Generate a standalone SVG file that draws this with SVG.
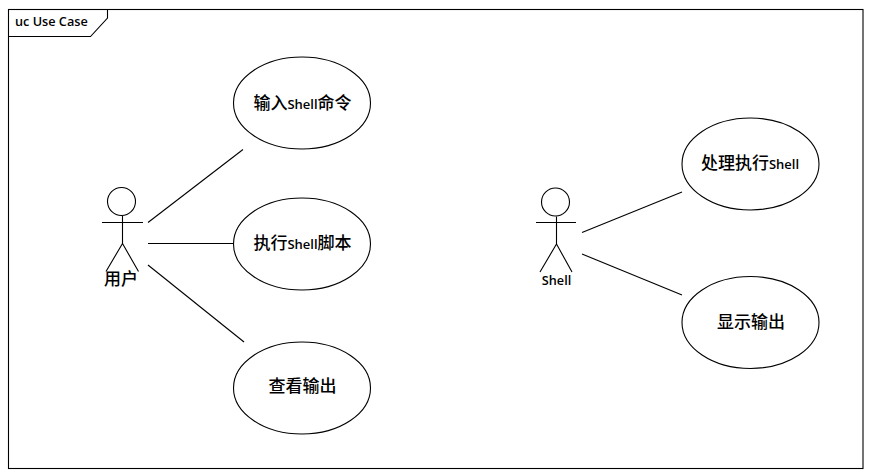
<svg xmlns="http://www.w3.org/2000/svg" width="870" height="476" viewBox="0 0 870 476">
<style>
.s{fill:none;stroke:#000;stroke-width:1.1}
.e{fill:#fff;stroke:#000;stroke-width:1.1}
.t{font-family:"Noto Sans CJK SC","Liberation Sans",sans-serif;font-size:17px;font-weight:500;fill:#000}
.f{font-family:"Open Sans","Liberation Sans",sans-serif;font-size:12.700px;font-weight:600;fill:#000}
.n{font-size:13px}
</style>
<rect width="870" height="476" fill="#fff"/>
<g id="frame">
<rect class="s" x="8.500" y="9.500" width="854.500" height="459"/>
<path class="s" d="M8.500 36.500H90.500L107.500 18V9.500"/>
<text class="f" x="15" y="26">uc Use Case</text>
</g>
<g id="connectors" class="s">
<line x1="148" y1="222.500" x2="243" y2="149.500"/>
<line x1="148" y1="243.500" x2="234" y2="243.500"/>
<line x1="148" y1="265" x2="244" y2="342"/>
<line x1="582" y1="232.500" x2="682" y2="192"/>
<line x1="582" y1="254" x2="682" y2="295"/>
</g>
<g id="actor-user">
<circle class="s" cx="121.500" cy="201.500" r="14"/>
<path class="s" d="M122.500 216V243.500M102 222.500H143M122.500 243.500L106 271.500M122.500 243.500L138.500 271.500"/>
<text class="t" x="121" y="285" text-anchor="middle">用户</text>
</g>
<g id="actor-shell">
<circle class="s" cx="555.500" cy="202" r="14"/>
<path class="s" d="M556.500 216.500V244M536 222.500H576M556.500 244L540 272M556.500 244L572 272"/>
<text class="f" x="556.500" y="285" text-anchor="middle">Shell</text>
</g>
<g id="uc-input">
<ellipse class="e" cx="302" cy="103" rx="68.500" ry="46"/>
<text class="t" x="302.500" y="108.500" text-anchor="middle">输入<tspan class="f n">Shell</tspan>命令</text>
</g>
<g id="uc-script">
<ellipse class="e" cx="302" cy="244" rx="68.500" ry="46"/>
<text class="t" x="302.500" y="249" text-anchor="middle">执行<tspan class="f n">Shell</tspan>脚本</text>
</g>
<g id="uc-view">
<ellipse class="e" cx="302" cy="388" rx="68.500" ry="46"/>
<text class="t" x="302.500" y="392" text-anchor="middle">查看输出</text>
</g>
<g id="uc-process">
<ellipse class="e" cx="750.500" cy="164" rx="68.500" ry="46"/>
<text class="t" x="750" y="169" text-anchor="middle">处理执行<tspan class="f n">Shell</tspan></text>
</g>
<g id="uc-display">
<ellipse class="e" cx="750.500" cy="322.500" rx="68.500" ry="46"/>
<text class="t" x="751" y="328" text-anchor="middle">显示输出</text>
</g>
</svg>
